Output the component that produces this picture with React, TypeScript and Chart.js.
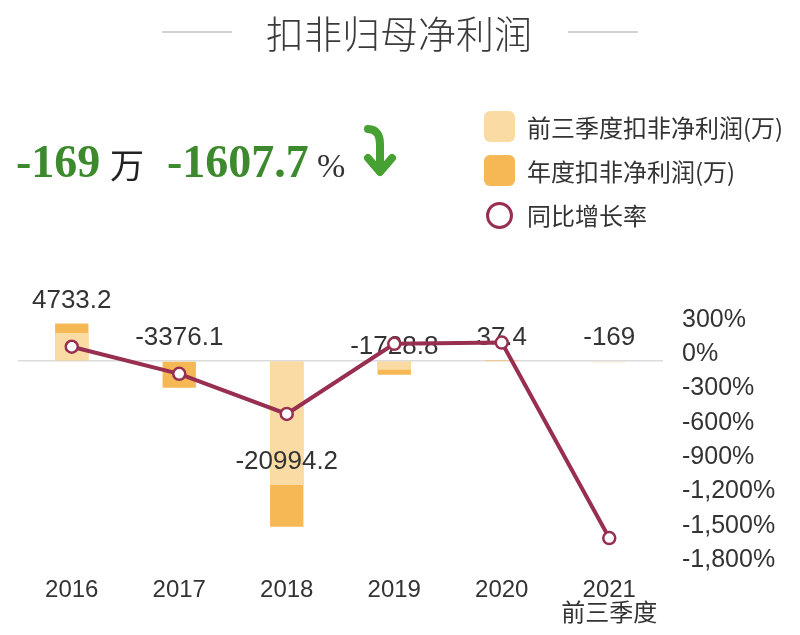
import React, { useEffect, useRef } from 'react';
import { Chart, registerables } from 'chart.js';

Chart.register(...registerables);

// ---- data ----
const categories: (string | string[])[] = ['2016', '2017', '2018', '2019', '2020', ['2021', '前三季度']];
const q3Profit: (number | null)[] = [3540, 0, -15690, -1100, -50, -169];
const annualProfit: (number | null)[] = [4733.2, -3376.1, -20994.2, -1728.8, 37.4, null];
const growthRate: number[] = [66, -171.3, -521.8, 91.8, 102.2, -1607.7];
const valueLabels: string[] = ['4733.2', '-3376.1', '-20994.2', '-1728.8', '37.4', '-169'];
const rateTicks: number[] = [300, 0, -300, -600, -900, -1200, -1500, -1800];
const legendNames: string[] = ['前三季度扣非净利润(万)', '年度扣非净利润(万)', '同比增长率'];
const titleText = '扣非归母净利润';
const headlineValue = '-169';
const headlineUnit = '万';
const headlineRate = '-1607.7';

const LIGHT = '#fadba4';
const DARK = '#f5b855';
const LINE = '#982f50';
const GREEN = '#3c8a2d';
const SANS = '"Liberation Sans", Arial, "Noto Sans CJK SC", sans-serif';
const CJK = '"Noto Sans CJK SC", "Liberation Sans", sans-serif';
const SERIF = '"Liberation Serif", "Times New Roman", serif';

const labelPlugin = {
  id: 'valueLabels',
  afterDatasetDraw(chart: any, args: any) {
    if (args.index !== 0) return;
    const { ctx } = chart;
    const x = chart.scales.x;
    const y = chart.scales.y;
    ctx.save();
    ctx.font = '26px ' + SANS;
    ctx.fillStyle = '#333';
    ctx.textAlign = 'center';
    ctx.textBaseline = 'middle';
    valueLabels.forEach((txt, i) => {
      const yl = y.getPixelForValue(q3Profit[i] ?? 0);
      const ya = y.getPixelForValue(annualProfit[i] ?? 0);
      const anchor = Math.min(yl, ya);
      ctx.fillText(txt, x.getPixelForValue(i), anchor - 23);
    });
    ctx.restore();
  },
};

export default function App() {
  const ref = useRef<HTMLCanvasElement | null>(null);

  useEffect(() => {
    if (!ref.current) return;
    const chart = new Chart(ref.current, {
      type: 'bar',
      data: {
        labels: categories as any,
        datasets: [
          {
            type: 'bar',
            label: legendNames[0],
            data: q3Profit as any,
            backgroundColor: LIGHT,
            yAxisID: 'y',
            order: 1,
            grouped: false,
            categoryPercentage: 1,
            barPercentage: 0.31,
          } as any,
          {
            type: 'bar',
            label: legendNames[1],
            data: annualProfit as any,
            backgroundColor: DARK,
            yAxisID: 'y',
            order: 2,
            grouped: false,
            categoryPercentage: 1,
            barPercentage: 0.31,
          } as any,
          {
            type: 'line',
            label: legendNames[2],
            data: growthRate,
            borderColor: LINE,
            borderWidth: 4,
            pointRadius: 6,
            pointBorderWidth: 2.5,
            pointBackgroundColor: '#fff',
            pointBorderColor: LINE,
            yAxisID: 'y1',
            order: 0,
            tension: 0,
          } as any,
        ],
      },
      options: {
        responsive: false,
        animation: false,
        layout: { padding: { top: 320, left: 0, right: 0, bottom: 0 } },
        plugins: { legend: { display: false }, tooltip: { enabled: false } },
        scales: {
          x: {
            grid: { display: false, drawTicks: false },
            border: { display: false },
            ticks: {
              color: '#333',
              font: { size: 24, family: SANS, lineHeight: 1 },
              padding: 18,
              maxRotation: 0,
              autoSkip: false,
            },
            afterFit: (s: any) => { s.height = 75; },
          },
          y: {
            position: 'left',
            min: -25200,
            max: 5190,
            grid: {
              color: '#dcdcdc',
              lineWidth: 1.5,
              drawTicks: false,
            },
            border: { display: false },
            ticks: { display: false },
            afterBuildTicks: (s: any) => { s.ticks = [{ value: 0 }]; },
            afterFit: (s: any) => { s.width = 18; },
          },
          y1: {
            position: 'right',
            min: -1800,
            max: 300,
            grid: { display: false, drawTicks: false },
            border: { display: false },
            ticks: {
              color: '#333',
              font: { size: 25, family: SANS },
              padding: 19,
              callback: (v: any) => Number(v).toLocaleString('en-US') + '%',
            },
            afterBuildTicks: (s: any) => { s.ticks = rateTicks.map((v) => ({ value: v })); },
            afterFit: (s: any) => { s.width = 137; },
          },
        },
      } as any,
      plugins: [labelPlugin],
    });
    return () => chart.destroy();
  }, []);

  const abs = (o: React.CSSProperties): React.CSSProperties => ({ position: 'absolute', margin: 0, whiteSpace: 'nowrap', ...o });

  return (
    <div style={{ position: 'absolute', left: 0, top: 0, width: 800, height: 635, background: '#fff', overflow: 'hidden' }}>
      <canvas ref={ref} width={800} height={635} style={{ position: 'absolute', left: 0, top: 0, width: 800, height: 635 }} />
      {/* title */}
      <div style={abs({ left: 162, top: 31, width: 70, height: 2, background: '#d2d2d2' })} />
      <div style={abs({ left: 568, top: 31, width: 70, height: 2, background: '#d2d2d2' })} />
      <div style={abs({ left: 0, top: 8, width: 798, textAlign: 'center', fontFamily: CJK, fontSize: 38, lineHeight: '48px', color: '#3a3a3a', fontWeight: 300 })}>{titleText}</div>
      {/* headline */}
      <div style={abs({ left: 16, top: 139, fontFamily: SERIF, fontWeight: 700, fontSize: 46, lineHeight: '46px', color: GREEN })}>{headlineValue}</div>
      <div style={abs({ left: 110, top: 147, fontFamily: CJK, fontSize: 34, lineHeight: '34px', color: '#222' })}>{headlineUnit}</div>
      <div style={abs({ left: 167, top: 139, fontFamily: SERIF, fontWeight: 700, fontSize: 46, lineHeight: '46px', color: GREEN })}>{headlineRate}</div>
      <div style={abs({ left: 317, top: 149, fontFamily: SERIF, fontSize: 34, lineHeight: '34px', color: '#333' })}>%</div>
      <svg style={abs({ left: 360, top: 122 })} width={40} height={58} viewBox="0 0 40 58">
        <path d="M8 7 C 17 7, 20 14, 20 22 L 20 48" fill="none" stroke="#46a032" strokeWidth={8} strokeLinecap="round" />
        <path d="M8 36 L 20 50 L 32 36" fill="none" stroke="#46a032" strokeWidth={8} strokeLinecap="round" strokeLinejoin="round" />
      </svg>
      {/* legend */}
      <div style={abs({ left: 484, top: 111, width: 31, height: 31, borderRadius: 6, background: LIGHT })} />
      <div style={abs({ left: 527, top: 111, fontFamily: CJK, fontSize: 24, lineHeight: '32px', color: '#333' })}>{legendNames[0]}</div>
      <div style={abs({ left: 484, top: 155, width: 31, height: 31, borderRadius: 6, background: DARK })} />
      <div style={abs({ left: 527, top: 155, fontFamily: CJK, fontSize: 24, lineHeight: '32px', color: '#333' })}>{legendNames[1]}</div>
      <div style={abs({ left: 486, top: 202, width: 21, height: 21, borderRadius: '50%', border: '3px solid ' + LINE, background: '#fff' })} />
      <div style={abs({ left: 527, top: 199, fontFamily: CJK, fontSize: 24, lineHeight: '32px', color: '#333' })}>{legendNames[2]}</div>
    </div>
  );
}
